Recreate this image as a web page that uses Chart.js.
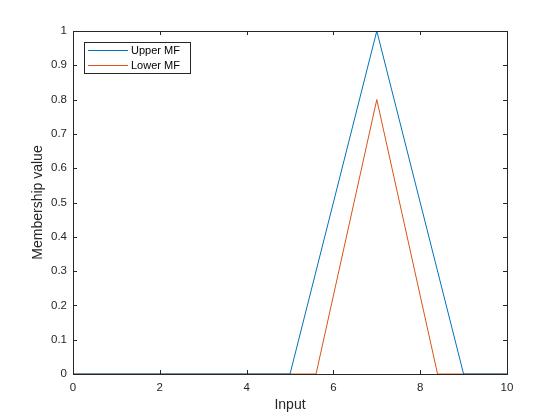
<!DOCTYPE html>
<html>
<head>
<meta charset="utf-8">
<script src="https://cdn.jsdelivr.net/npm/chart.js@4/dist/chart.umd.min.js"></script>
<style>
html,body{margin:0;padding:0;background:#fff;}
#wrap{width:560px;height:420px;position:relative;}
</style>
</head>
<body>
<div id="wrap"><canvas id="c" width="560" height="420"></canvas></div>
<script>
const upperX = [0, 5, 7, 9, 10];
const upperY = [0, 0, 1, 0, 0];
const lowerX = [0, 5.6, 7, 8.4, 10];
const lowerY = [0, 0, 0.8, 0, 0];
const xTicks = [0, 2, 4, 6, 8, 10];
const yTicks = [0, 0.1, 0.2, 0.3, 0.4, 0.5, 0.6, 0.7, 0.8, 0.9, 1];
const seriesLabels = ['Upper MF', 'Lower MF'];
const seriesColors = ['#0072BD', '#D95319'];

const toPts = (xs, ys) => xs.map((x, i) => ({x: x, y: ys[i]}));
const FONT = "'Liberation Sans', Arial, sans-serif";
const AX = '#262626';

const boxPlugin = {
  id: 'boxTicks',
  afterDatasetsDraw(chart) {
    const ctx = chart.ctx, a = chart.chartArea;
    const xs = chart.scales.x, ys = chart.scales.y;
    ctx.save();
    ctx.strokeStyle = AX;
    ctx.lineWidth = 1;
    ctx.beginPath();
    ctx.rect(Math.round(a.left) + 0.5, Math.round(a.top) + 0.5, Math.round(a.right - a.left), Math.round(a.bottom - a.top));
    ctx.stroke();
    const L = 4;
    ctx.beginPath();
    xTicks.forEach(v => {
      const p = Math.round(xs.getPixelForValue(v)) + 0.5;
      ctx.moveTo(p, a.bottom); ctx.lineTo(p, a.bottom - L);
      ctx.moveTo(p, a.top); ctx.lineTo(p, a.top + L);
    });
    yTicks.forEach(v => {
      const p = Math.round(ys.getPixelForValue(v)) + 0.5;
      ctx.moveTo(a.left, p); ctx.lineTo(a.left + L, p);
      ctx.moveTo(a.right, p); ctx.lineTo(a.right - L, p);
    });
    ctx.stroke();
    // legend
    const lx = 84.5, ly = 42.5, lw = 106, lh = 31;
    ctx.fillStyle = '#fff';
    ctx.fillRect(lx, ly, lw, lh);
    ctx.strokeStyle = AX;
    ctx.strokeRect(lx, ly, lw, lh);
    ctx.font = '11px ' + FONT;
    ctx.textBaseline = 'middle';
    ctx.textAlign = 'left';
    seriesLabels.forEach((t, i) => {
      const yy = 50.5 + i * 15;
      ctx.strokeStyle = seriesColors[i];
      ctx.beginPath(); ctx.moveTo(88, yy); ctx.lineTo(128, yy); ctx.stroke();
      ctx.fillStyle = '#000';
      ctx.fillText(t, 131, yy);
    });
    ctx.restore();
  }
};

new Chart(document.getElementById('c'), {
  type: 'line',
  data: {
    datasets: [
      {label: seriesLabels[0], data: toPts(upperX, upperY), borderColor: seriesColors[0], borderWidth: 1, pointRadius: 0, fill: false, tension: 0},
      {label: seriesLabels[1], data: toPts(lowerX, lowerY), borderColor: seriesColors[1], borderWidth: 1, pointRadius: 0, fill: false, tension: 0}
    ]
  },
  options: {
    responsive: false,
    animation: false,
    events: [],
    layout: {padding: {left: 0, right: 53, top: 31, bottom: 0}},
    plugins: {legend: {display: false}, tooltip: {enabled: false}},
    scales: {
      x: {
        type: 'linear', min: 0, max: 10,
        afterBuildTicks: s => { s.ticks = xTicks.map(v => ({value: v})); },
        afterFit: s => { s.height = 46; },
        grid: {display: false, drawTicks: false},
        border: {display: true, color: AX},
        ticks: {color: AX, font: {family: FONT, size: 11.5}, padding: 7, maxRotation: 0},
        title: {display: true, text: 'Input', color: AX, font: {family: FONT, size: 14}, padding: {top: 0, bottom: 6}}
      },
      y: {
        type: 'linear', min: 0, max: 1,
        afterBuildTicks: s => { s.ticks = yTicks.map(v => ({value: v})); },
        afterFit: s => { s.width = 73; },
        grid: {display: false, drawTicks: false},
        border: {display: true, color: AX},
        ticks: {color: AX, font: {family: FONT, size: 11.5}, padding: 6, callback: v => String(Math.round(v * 10) / 10)},
        title: {display: true, text: 'Membership value', color: AX, font: {family: FONT, size: 14}, padding: {top: 30, bottom: 0}}
      }
    }
  },
  plugins: [boxPlugin]
});
</script>
</body>
</html>
